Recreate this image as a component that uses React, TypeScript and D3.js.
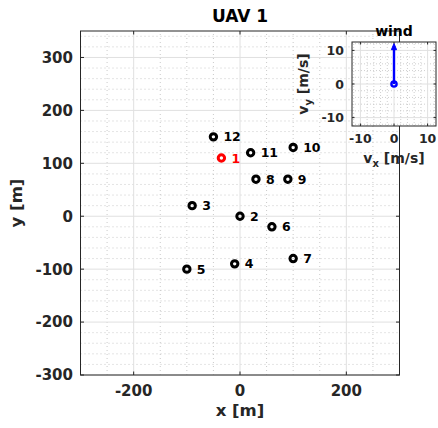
import React from "react";
import * as d3 from "d3";

// Waypoint positions [m]
const ids = [1, 2, 3, 4, 5, 6, 7, 8, 9, 10, 11, 12];
const xs = [-35, 0, -90, -10, -100, 60, 100, 30, 90, 100, 20, -50];
const ys = [110, 0, 20, -90, -100, -20, -80, 70, 70, 130, 120, 150];
const activeId = 1;

// Wind vector [m/s]
const windVx = [0];
const windVy = [12];

const xTicks = [-200, 0, 200];
const yTicks = [-300, -200, -100, 0, 100, 200, 300];
const windTicks = [-10, 0, 10];

const FONT = "'DejaVu Sans', sans-serif";
const AX = "#262626";

export default function App() {
  const W = 438, H = 428;
  const x = d3.scaleLinear().domain([-300, 300]).range([80.5, 399.5]);
  const y = d3.scaleLinear().domain([-300, 350]).range([375, 31]);
  const [x0, x1] = x.range();
  const [y0, y1] = y.range();

  const xMinor = d3.range(-300, 301, 50).filter((v) => v % 200 !== 0);
  const yMinor = d3.range(-300, 351, 20).filter((v) => v % 100 !== 0);

  // inset
  const wx = d3.scaleLinear().domain([-12.5, 12.5]).range([352, 436]);
  const wy = d3.scaleLinear().domain([-12.5, 12.5]).range([126, 42]);
  const [wx0, wx1] = wx.range();
  const [wy0, wy1] = wy.range();
  const wMinor = d3.range(-12, 13, 2).filter((v) => v % 10 !== 0);

  const tipX = wx(windVx[0]);
  const tipY = wy(windVy[0]);

  return (
    <svg width={W} height={H} style={{ position: "absolute", left: 0, top: 0, background: "#fff" }} fontFamily={FONT}>
      <rect x={0} y={0} width={W} height={H} fill="#fff" />
      {/* main axes */}
      <rect x={x0} y={y1} width={x1 - x0} height={y0 - y1} fill="#fff" />
      {xMinor.map((v) => (
        <line key={"xm" + v} x1={x(v)} x2={x(v)} y1={y0} y2={y1} stroke="#bdbdbd" strokeWidth={0.8} strokeDasharray="1 3" />
      ))}
      {yMinor.map((v) => (
        <line key={"ym" + v} x1={x0} x2={x1} y1={y(v)} y2={y(v)} stroke="#bdbdbd" strokeWidth={0.8} strokeDasharray="1 3" />
      ))}
      {xTicks.map((v) => (
        <line key={"xg" + v} x1={x(v)} x2={x(v)} y1={y0} y2={y1} stroke="#e0e0e0" strokeWidth={1} />
      ))}
      {yTicks.map((v) => (
        <line key={"yg" + v} x1={x0} x2={x1} y1={y(v)} y2={y(v)} stroke="#e0e0e0" strokeWidth={1} />
      ))}
      {xTicks.map((v) => (
        <g key={"xt" + v}>
          <line x1={x(v)} x2={x(v)} y1={y0} y2={y0 - 3.5} stroke={AX} />
          <line x1={x(v)} x2={x(v)} y1={y1} y2={y1 + 3.5} stroke={AX} />
          <text x={x(v)} y={396} textAnchor="middle" fontSize={15} fontWeight="bold" fill={AX}>{v}</text>
        </g>
      ))}
      {yTicks.map((v) => (
        <g key={"yt" + v}>
          <line x1={x0} x2={x0 + 3.5} y1={y(v)} y2={y(v)} stroke={AX} />
          <line x1={x1} x2={x1 - 3.5} y1={y(v)} y2={y(v)} stroke={AX} />
          <text x={73} y={y(v)} dy="0.36em" textAnchor="end" fontSize={15} fontWeight="bold" fill={AX}>{v}</text>
        </g>
      ))}
      {/* waypoints */}
      {ids.map((id, i) => {
        const c = id === activeId ? "#ff0000" : "#000";
        return (
          <g key={"p" + id}>
            <circle cx={x(xs[i])} cy={y(ys[i])} r={3.2} fill="none" stroke={c} strokeWidth={3} />
            <text x={x(xs[i]) + 10} y={y(ys[i])} dy="0.36em" fontSize={12.5} fontWeight="bold" fill={c}>{id}</text>
          </g>
        );
      })}
      <rect x={x0} y={y1} width={x1 - x0} height={y0 - y1} fill="none" stroke={AX} strokeWidth={1} />
      <text x={(x0 + x1) / 2} y={22} textAnchor="middle" fontSize={17} fontWeight="bold" fill="#000">UAV 1</text>
      <text x={(x0 + x1) / 2} y={416} textAnchor="middle" fontSize={16.5} fontWeight="bold" fill={AX}>x [m]</text>
      <text transform={`translate(22,${(y0 + y1) / 2}) rotate(-90)`} textAnchor="middle" fontSize={16.5} fontWeight="bold" fill={AX}>y [m]</text>

      {/* wind inset */}
      <rect x={wx0} y={wy1} width={wx1 - wx0} height={wy0 - wy1} fill="#fff" />
      {wMinor.map((v) => (
        <g key={"wm" + v}>
          <line x1={wx(v)} x2={wx(v)} y1={wy0} y2={wy1} stroke="#c4c4c4" strokeWidth={0.8} strokeDasharray="1 2" />
          <line x1={wx0} x2={wx1} y1={wy(v)} y2={wy(v)} stroke="#c4c4c4" strokeWidth={0.8} strokeDasharray="1 2" />
        </g>
      ))}
      {windTicks.map((v) => (
        <g key={"wg" + v}>
          <line x1={wx(v)} x2={wx(v)} y1={wy0} y2={wy1} stroke="#e0e0e0" />
          <line x1={wx0} x2={wx1} y1={wy(v)} y2={wy(v)} stroke="#e0e0e0" />
        </g>
      ))}
      {windTicks.map((v) => (
        <g key={"wt" + v}>
          <line x1={wx(v)} x2={wx(v)} y1={wy0} y2={wy0 - 2.5} stroke={AX} />
          <line x1={wx(v)} x2={wx(v)} y1={wy1} y2={wy1 + 2.5} stroke={AX} />
          <line x1={wx0} x2={wx0 + 2.5} y1={wy(v)} y2={wy(v)} stroke={AX} />
          <line x1={wx1} x2={wx1 - 2.5} y1={wy(v)} y2={wy(v)} stroke={AX} />
          <text x={wx(v)} y={143} textAnchor="middle" fontSize={12.5} fontWeight="bold" fill={AX}>{v}</text>
          <text x={344} y={wy(v)} dy="0.36em" textAnchor="end" fontSize={12.5} fontWeight="bold" fill={AX}>{v}</text>
        </g>
      ))}
      <line x1={wx(0)} y1={wy(0)} x2={tipX} y2={tipY + 2} stroke="#0000ff" strokeWidth={2.4} />
      <path d={`M${tipX},${tipY} L${tipX - 2.6},${tipY + 6} L${tipX + 2.6},${tipY + 6} Z`} fill="#0000ff" stroke="#0000ff" strokeWidth={1} strokeLinejoin="round" />
      <circle cx={wx(0)} cy={wy(0)} r={2.6} fill="none" stroke="#0000ff" strokeWidth={2.4} />
      <rect x={wx0} y={wy1} width={wx1 - wx0} height={wy0 - wy1} fill="none" stroke={AX} strokeWidth={1} />
      <text x={(wx0 + wx1) / 2} y={35.5} textAnchor="middle" fontSize={14} fontWeight="bold" fill="#000">wind</text>
      <text x={(wx0 + wx1) / 2} y={163} textAnchor="middle" fontSize={14} fontWeight="bold" fill={AX}>
        v<tspan fontSize={10} dy={4}>x</tspan><tspan dy={-4}> [m/s]</tspan>
      </text>
      <text transform={`translate(308,${(wy0 + wy1) / 2}) rotate(-90)`} textAnchor="middle" fontSize={14} fontWeight="bold" fill={AX}>
        v<tspan fontSize={10} dy={4}>y</tspan><tspan dy={-4}> [m/s]</tspan>
      </text>
    </svg>
  );
}
